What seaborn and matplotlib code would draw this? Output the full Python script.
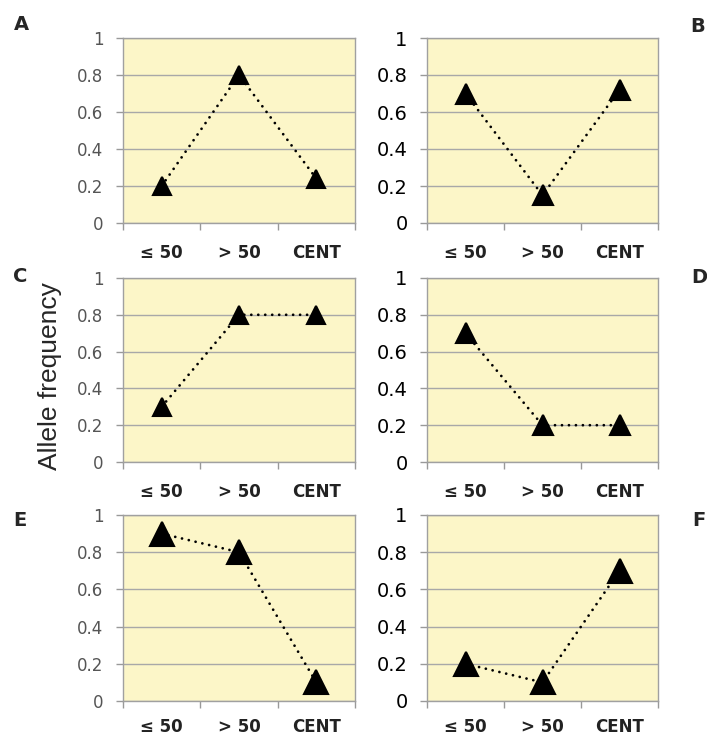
import matplotlib
matplotlib.use('Agg')
import matplotlib.pyplot as plt
import seaborn as sns
import pandas as pd

# categories on the x axis
groups = ['\u2264 50', '> 50', 'CENT']
# allele frequency per panel
freq_a = [0.2, 0.8, 0.24]
freq_b = [0.7, 0.15, 0.72]
freq_c = [0.3, 0.8, 0.8]
freq_d = [0.7, 0.2, 0.2]
freq_e = [0.9, 0.8, 0.1]
freq_f = [0.2, 0.1, 0.7]
panel_names = ['A', 'B', 'C', 'D', 'E', 'F']
yticks = [0, 0.2, 0.4, 0.6, 0.8, 1]
ytick_labels = ['0', '0.2', '0.4', '0.6', '0.8', '1']

sns.set_style('ticks')
plt.rcParams['font.family'] = ['DejaVu Sans']

W, H = 707, 738
fig = plt.figure(figsize=(W / 100, H / 100), dpi=100)

# pixel boxes for each panel column / row
cols = [(123, 355), (427, 658)]
rows = [(38, 223), (278, 462), (515, 701)]
all_freqs = [freq_a, freq_b, freq_c, freq_d, freq_e, freq_f]
msizes = [13, 14, 13, 14, 17, 17]

for i, vals in enumerate(all_freqs):
    r, c = divmod(i, 2)
    x0, x1 = cols[c]
    y0, y1 = rows[r]
    ax = fig.add_axes([x0 / W, 1 - y1 / H, (x1 - x0) / W, (y1 - y0) / H])
    ax.set_facecolor('#FCF6C8')
    df = pd.DataFrame({'group': groups, 'freq': vals})
    sns.pointplot(data=df, x='group', y='freq', color='black', markers='^',
                  linestyles=':', ax=ax, markersize=msizes[i], linewidth=2)
    for ln in ax.lines:
        ln.set_dashes([0.01, 2.5])
        ln.set_dash_capstyle('round')
        ln.set_zorder(3)
    ax.set_ylim(0, 1)
    ax.set_xlim(-0.5, 2.5)
    ax.set_yticks(yticks)
    ax.yaxis.grid(True, color='#A8A8A8', linewidth=1)
    ax.set_axisbelow(True)
    ax.set_xticks([0, 1, 2])
    ax.set_xticks([-0.5, 0.5, 1.5, 2.5], minor=True)
    # bottom row labels sit close to the figure edge
    ax.tick_params(axis='x', which='major', length=0, pad=15 if r < 2 else 12)
    ax.tick_params(axis='x', which='minor', length=5, color='#999999', width=1)
    ax.set_xticklabels(groups, fontweight='bold', fontsize=12, color='#222222')
    if c == 0:
        ax.set_yticklabels(ytick_labels, fontsize=12, color='#555555')
    else:
        ax.set_yticklabels(ytick_labels, fontsize=14, color='black')
    ax.tick_params(axis='y', length=5, color='#999999', width=1, pad=9)
    for s in ax.spines.values():
        s.set_color('#A0A0A0')
        s.set_linewidth(1)
    ax.set_xlabel('')
    ax.set_ylabel('')

# panel letters
letter_pos = [(21, 25), (698, 26), (20, 277), (699, 278), (20, 521), (699, 520)]
for name, (px, py) in zip(panel_names, letter_pos):
    fig.text(px / W, 1 - py / H, name, fontsize=14, fontweight='bold',
             ha='center', va='center')

fig.text(50 / W, 1 - 376 / H, 'Allele frequency', rotation=90, fontsize=19,
         ha='center', va='center', family=['Liberation Sans', 'DejaVu Sans'])

fig.savefig('out.png', dpi=100)
